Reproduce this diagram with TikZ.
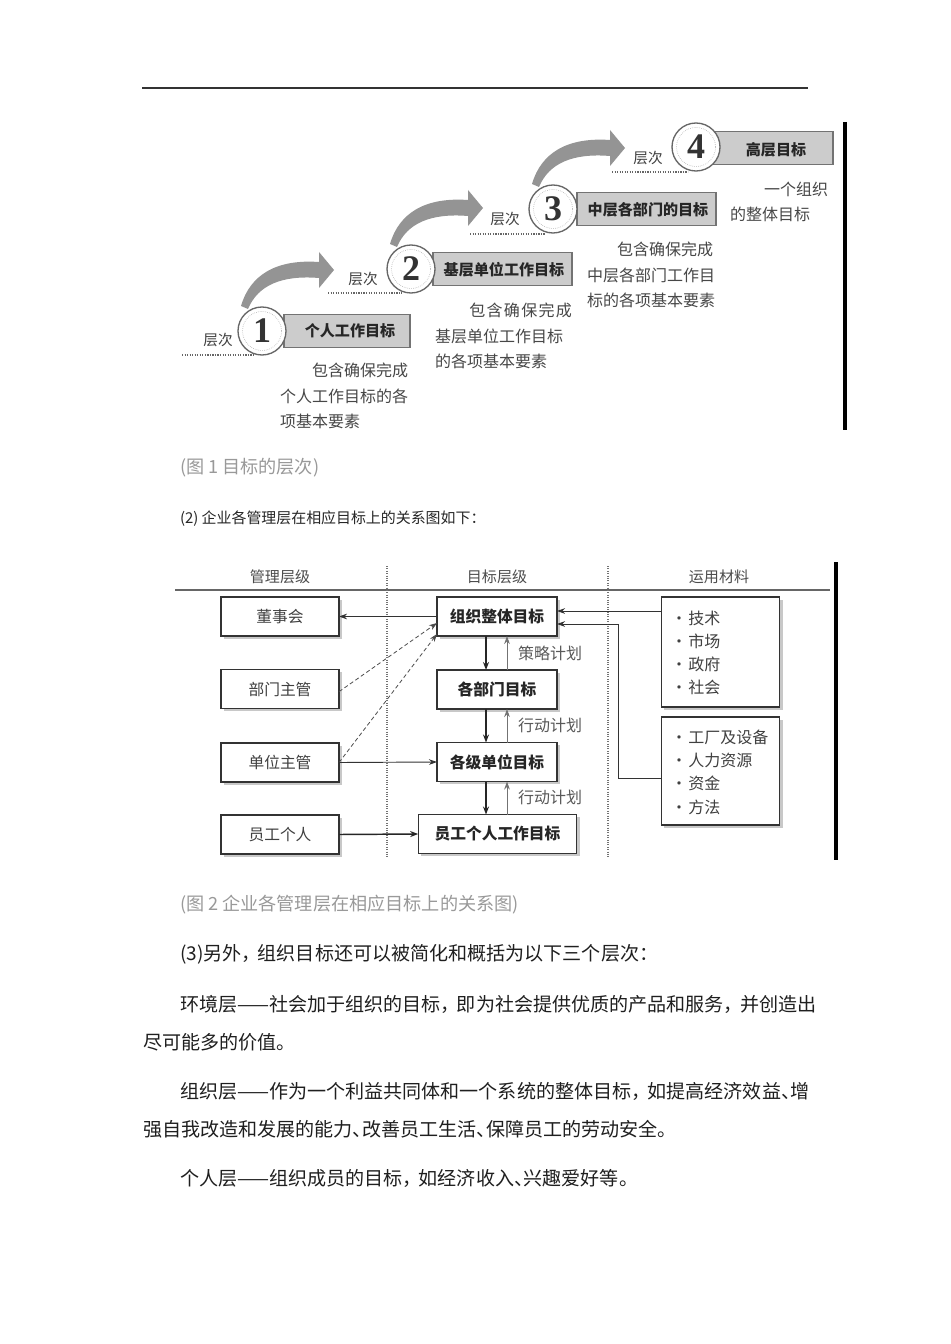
\documentclass[tikz,border=0pt]{standalone}
\usepackage{fontspec}
\usetikzlibrary{arrows.meta,shadows,calc}
\setmainfont{Noto Sans CJK SC}
\newfontfamily\cjk{Noto Sans CJK SC}
\newfontfamily\cjkh[RawFeature=+halt]{Noto Sans CJK SC}
\newfontfamily\numfont{Liberation Serif}
\newcommand\cm{，\hspace{0.35em}}
\begin{document}
\begin{tikzpicture}[x=0.75pt,y=-0.75pt,
  every node/.style={inner sep=0pt, outer sep=0pt},
  lvbox/.style={fill=black!20, draw=black!55, line width=0.8pt, minimum height=25pt},
  swoosh/.style={fill=black!42},
  ring/.style={circle, fill=white, draw=black!60, line width=1pt, minimum size=36pt},
  ringin/.style={draw=black!40, densely dotted, line width=0.4pt},
  num/.style={font=\numfont\bfseries\fontsize{27}{27}\selectfont, text=black!80},
  lvl/.style={font=\cjk\fontsize{11}{13}\selectfont, text=black!75},
  boxtxt/.style={font=\cjk\bfseries\fontsize{11.3}{13}\selectfont, text=black!85},
  desc/.style={font=\cjk\fontsize{12}{14}\selectfont, text=black!72},
  dots/.style={densely dotted, draw=black!60, line width=0.9pt},
  mbox/.style={draw=black!80, line width=0.9pt, fill=white, minimum height=29.25pt,
    drop shadow={shadow xshift=2.2pt, shadow yshift=-2.2pt, fill=black!30, opacity=0.7}},
  ltxt/.style={font=\cjk\fontsize{11.8}{14}\selectfont, text=black!75},
  mtxt/.style={font=\cjk\bfseries\fontsize{11.8}{14}\selectfont, text=black!85},
  htxt/.style={font=\cjk\fontsize{11.3}{13}\selectfont, text=black!70},
  plan/.style={font=\cjk\fontsize{12}{14}\selectfont, text=black!65},
  btxt/.style={font=\cjk\fontsize{12}{14}\selectfont, text=black!75, anchor=west},
  arr/.style={-{Stealth[length=6pt,width=4.2pt]}, line width=0.7pt, draw=black!80},
  darr/.style={-{Stealth[length=6pt,width=4.5pt]}, line width=1.1pt, draw=black!85},
  uarr/.style={-{Stealth[length=6pt,width=4.2pt]}, line width=0.7pt, draw=black!55},
  slant/.style={-{Stealth[length=6pt,width=4.2pt]}, line width=0.6pt, draw=black!70, densely dashed},
  body/.style={font=\cjkh\fontsize{14.3}{17}\selectfont, text=black!88, anchor=west},
  captxt/.style={font=\cjk\fontsize{13.6}{16}\selectfont, text=black!40, anchor=west}
]
\fill[white] (0,0) rectangle (950,1344);
\useasboundingbox (0,0) rectangle (950,1344);

% top rule
\coordinate (rl) at (142,88);
\coordinate (rr) at (808,88);
\draw[line width=0.8pt, black!80] (rl) -- (rr);

% ============ Figure 1 ============
\foreach \cx/\cy in {262/331, 411/269, 553/209}{
  \begin{scope}[shift={(\cx,\cy)}]
    \fill[swoosh] (-14,-22) .. controls (-4,-46) and (20,-56) .. (57,-53)
      -- (57,-43) -- (72,-61) -- (57,-79) -- (57,-69)
      .. controls (14,-72) and (-12,-56) .. (-21,-25) -- cycle;
  \end{scope}
}

\coordinate (d1a) at (182,355); \coordinate (d1b) at (255,355);
\coordinate (d2a) at (328,293); \coordinate (d2b) at (402,293);
\coordinate (d3a) at (470,234); \coordinate (d3b) at (545,234);
\coordinate (d4a) at (612,172); \coordinate (d4b) at (688,172);
\draw[dots] (d1a) -- (d1b);
\draw[dots] (d2a) -- (d2b);
\draw[dots] (d3a) -- (d3b);
\draw[dots] (d4a) -- (d4b);

\node[lvbox, minimum width=94.5pt] (b1) at (347,331) {};
\node[lvbox, minimum width=104.25pt] (b2) at (502.5,269) {};
\node[lvbox, minimum width=104.25pt] (b3) at (646.5,209) {};
\node[lvbox, minimum width=90pt] (b4) at (773,148) {};
\node[boxtxt] (t1) at (350,331) {个人工作目标};
\node[boxtxt] (t2) at (504,270) {基层单位工作目标};
\node[boxtxt] (t3) at (648,210) {中层各部门的目标};
\node[boxtxt] (t4) at (776,150) {高层目标};

\foreach \n/\cx/\cy in {1/262/331, 2/411/269, 3/553/209, 4/696/147}{
  \node[ring] (c\n) at (\cx,\cy) {};
  \draw[ringin] (\cx,\cy) circle[radius=19.5];
  \node[num] (n\n) at (\cx,\cy) {\n};
}

\node[lvl] (l1) at (218,340) {层次};
\node[lvl] (l2) at (363,279) {层次};
\node[lvl] (l3) at (505,219) {层次};
\node[lvl] (l4) at (648,158) {层次};

\node[desc, anchor=east] (e11) at (408,370) {包含确保完成};
\node[desc, anchor=west] (e12) at (280,396) {个人工作目标的各};
\node[desc, anchor=west] (e13) at (280,421) {项基本要素};
\node[desc, anchor=east] (e21) at (572,310) {包\hspace{1pt}含\hspace{1pt}确\hspace{1pt}保\hspace{1pt}完\hspace{1pt}成};
\node[desc, anchor=west] (e22) at (435,336) {基层单位工作目标};
\node[desc, anchor=west] (e23) at (435,361) {的各项基本要素};
\node[desc, anchor=east] (e31) at (713,249) {包含确保完成};
\node[desc, anchor=west] (e32) at (587,275) {中层各部门工作目};
\node[desc, anchor=west] (e33) at (587,300) {标的各项基本要素};
\node[desc, anchor=east] (e41) at (828,189) {一个组织};
\node[desc, anchor=west] (e42) at (730,214) {的整体目标};

\coordinate (v1a) at (845,122); \coordinate (v1b) at (845,430);
\draw[line width=2.6pt, black] (v1a) -- (v1b);

\node[captxt] (cap1) at (180,468) {(图 1 目标的层次)};
\node[font=\cjk\fontsize{11.2}{13}\selectfont, text=black!85, anchor=west] (p2) at (180,519) {(2) 企业各管理层在相应目标上的关系图如下：};

% ============ Figure 2 ============
\coordinate (hl) at (175,590); \coordinate (hr) at (830,590);
\draw[line width=0.9pt, black!60] (hl) -- (hr);
\coordinate (s1a) at (387,566); \coordinate (s1b) at (387,858);
\coordinate (s2a) at (608,566); \coordinate (s2b) at (608,858);
\draw[densely dotted, black!55, line width=0.8pt] (s1a) -- (s1b);
\draw[densely dotted, black!55, line width=0.8pt] (s2a) -- (s2b);
\node[htxt] (h1) at (280,577) {管理层级};
\node[htxt] (h2) at (497,577) {目标层级};
\node[htxt] (h3) at (719,577) {运用材料};

\coordinate (v2a) at (836,562); \coordinate (v2b) at (836,860);
\draw[line width=2.6pt, black] (v2a) -- (v2b);

\node[mbox, minimum width=88.5pt, ltxt] (dsh) at (280,616.5) {董事会};
\node[mbox, minimum width=88.5pt, ltxt] (bmz) at (280,689) {部门主管};
\node[mbox, minimum width=88.5pt, ltxt] (dwz) at (280,762.5) {单位主管};
\node[mbox, minimum width=88.5pt, ltxt] (ygr) at (280,834.5) {员工个人};
\node[mbox, minimum width=90pt, mtxt] (org) at (497,616.5) {组织整体目标};
\node[mbox, minimum width=90pt, mtxt] (bmm) at (497,689.5) {各部门目标};
\node[mbox, minimum width=90pt, mtxt] (jdw) at (497,762) {各级单位目标};
\node[mbox, minimum width=119pt, mtxt] (ygm) at (497.5,834) {员工个人工作目标};
\node[mbox, minimum width=89pt, minimum height=82.5pt] (matA) at (720.5,652) {};
\node[mbox, minimum width=89pt, minimum height=81pt] (matB) at (720.5,771) {};
\node[btxt] (a1) at (671,618) {·\hspace{1pt}技术};
\node[btxt] (a2) at (671,641) {·\hspace{1pt}市场};
\node[btxt] (a3) at (671,664) {·\hspace{1pt}政府};
\node[btxt] (a4) at (671,687) {·\hspace{1pt}社会};
\node[btxt] (m1) at (671,737) {·\hspace{1pt}工厂及设备};
\node[btxt] (m2) at (671,760) {·\hspace{1pt}人力资源};
\node[btxt] (m3) at (671,783) {·\hspace{1pt}资金};
\node[btxt] (m4) at (671,807) {·\hspace{1pt}方法};

\draw[arr] (org.west) -- (dsh.east);
\coordinate (sa) at (437,623);
\coordinate (sb) at (437,634);
\draw[slant] ([yshift=-2pt]bmz.east) -- (sa);
\draw[slant] (dwz.east) -- (sb);
\draw[arr] (dwz.east) -- (jdw.west);
\draw[darr] (ygr.east) -- (ygm.west);

\coordinate (dx) at (486,600);
\coordinate (ux) at (507,600);
\draw[darr] (org.south -| dx) -- (bmm.north -| dx);
\draw[darr] (bmm.south -| dx) -- (jdw.north -| dx);
\draw[darr] (jdw.south -| dx) -- (ygm.north -| dx);
\draw[uarr] (bmm.north -| ux) -- (org.south -| ux);
\draw[uarr] (jdw.north -| ux) -- (bmm.south -| ux);
\draw[uarr] (ygm.north -| ux) -- (jdw.south -| ux);
\node[plan] (pl1) at (550,653) {策略计划};
\node[plan] (pl2) at (550,725) {行动计划};
\node[plan] (pl3) at (550,797) {行动计划};

\coordinate (ya) at (600,611);
\coordinate (yb) at (600,624);
\coordinate (yc) at (618,778);
\draw[arr] (matA.west |- ya) -- (org.east |- ya);
\draw[arr] (matB.west |- yc) -- (yc) -- (yc |- yb) -- (org.east |- yb);

% ============ Text ============
\node[captxt] (cap2) at (180,905) {(图 2 企业各管理层在相应目标上的关系图)};
\node[body] (q0) at (180,954) {(3)另外\cm 组织目标还可以被简化和概括为以下三个层次：};
\node[body] (q1) at (180,1004) {环境层——社会加于组织的目标\cm 即为社会提供优质的产品和服务\cm 并创造出};
\node[body] (q2) at (143,1042) {尽可能多的价值。};
\node[body] (q3) at (180,1091) {组织层——作为一个利益共同体和一个系统的整体目标\cm 如提高经济效益、增};
\node[body] (q4) at (143,1129) {强自我改造和发展的能力、改善员工生活、保障员工的劳动安全。};
\node[body] (q5) at (180,1178) {个人层——组织成员的目标\cm 如经济收入、兴趣爱好等。};
\end{tikzpicture}
\end{document}
